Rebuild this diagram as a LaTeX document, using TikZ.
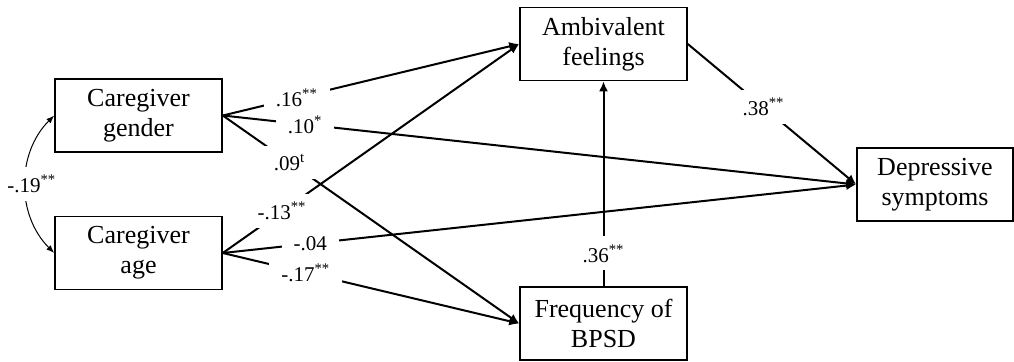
\documentclass[tikz,border=0pt]{standalone}
\usepackage{fontspec}
\setmainfont{Liberation Serif}
\usetikzlibrary{arrows.meta}

\begin{document}
\begin{tikzpicture}[x=0.5pt,y=-0.5pt,
		var/.style={draw, line width=0.8pt, align=center, minimum width=83.5pt, minimum height=36.5pt, inner sep=0pt, font=\fontsize{13}{15}\selectfont},
		coef/.style={fill=white, inner xsep=6pt, inner ysep=4pt, font=\fontsize{10.5}{12}\selectfont},
		eff/.style={line width=1pt, -{Latex[length=5pt,width=4.5pt]}}]
		\useasboundingbox (0,0) rectangle (1014,361);
		\node[var] (gender) at (138.5,115.5) {Caregiver\\gender};
		\node[var] (age) at (138.5,253) {Caregiver\\age};
		\node[var] (amb) at (603.5,44) {Ambivalent\\feelings};
		\node[var] (freq) at (603.5,323.5) {Frequency of\\BPSD};
		\node[var, minimum width=78pt] (dep) at (935,184.5) {Depressive\\symptoms};
		\foreach \from/\to/\pos/\val in {%
			gender/amb/0.25/{.16\textsuperscript{**}},
			gender/dep/0.13/{.10\textsuperscript{*}},
			gender/freq/0.225/{.09\textsuperscript{t}},
			age/amb/0.2/{-.13\textsuperscript{**}},
			age/dep/0.138/{-.04},
			age/freq/0.28/{-.17\textsuperscript{**}}}%
		{
			\draw[eff] (\from.east) -- node[coef, pos=\pos] {\val} (\to.west);
		};
		\draw[eff] (amb.east) -- node[coef, pos=0.45] {.38\textsuperscript{**}} (dep.west);
		\draw[eff] (freq.north) -- node[coef, pos=0.16] {.36\textsuperscript{**}} (amb.south);
		\draw[line width=0.5pt, {Latex[length=4pt,width=3pt]}-{Latex[length=4pt,width=3pt]}] (gender.west) to[bend right=45] node[coef, inner xsep=1pt, xshift=3pt] {-.19\textsuperscript{**}} (age.west);
	\end{tikzpicture}
\end{document}
